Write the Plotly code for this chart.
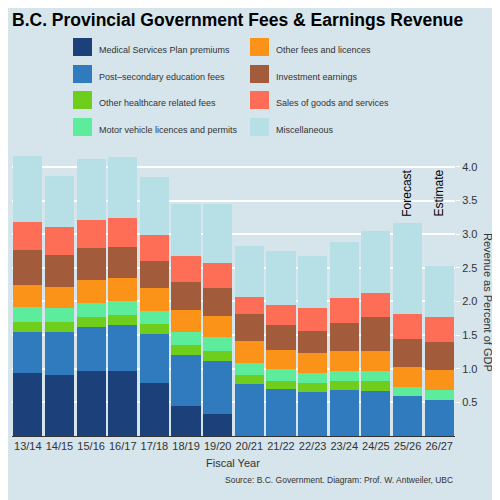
import plotly.graph_objects as go

# fiscal years and revenue components, % of GDP
years = ["13/14", "14/15", "15/16", "16/17", "17/18", "18/19", "19/20",
         "20/21", "21/22", "22/23", "23/24", "24/25", "25/26", "26/27"]

msp = [0.93, 0.91, 0.96, 0.96, 0.79, 0.45, 0.33, 0, 0, 0, 0, 0, 0, 0]
post_sec = [0.62, 0.63, 0.665, 0.69, 0.72, 0.76, 0.79, 0.77, 0.70, 0.65, 0.68, 0.67, 0.595, 0.54]
other_health = [0.15, 0.15, 0.145, 0.15, 0.15, 0.15, 0.15, 0.13, 0.12, 0.14, 0.14, 0.15, 0, 0]
motor = [0.22, 0.21, 0.21, 0.21, 0.20, 0.19, 0.20, 0.185, 0.17, 0.15, 0.145, 0.145, 0.135, 0.14]
other_fees = [0.33, 0.32, 0.34, 0.34, 0.345, 0.32, 0.32, 0.325, 0.29, 0.29, 0.295, 0.305, 0.30, 0.295]
investment = [0.52, 0.47, 0.48, 0.46, 0.395, 0.42, 0.415, 0.41, 0.365, 0.325, 0.42, 0.50, 0.41, 0.425]
sales = [0.41, 0.41, 0.41, 0.43, 0.39, 0.39, 0.37, 0.24, 0.295, 0.345, 0.37, 0.35, 0.37, 0.37]
misc = [0.98, 0.77, 0.91, 0.91, 0.86, 0.77, 0.875, 0.77, 0.81, 0.77, 0.83, 0.92, 1.35, 0.76]

series = [
    ("Medical Services Plan premiums", msp, "#1c4079"),
    ("Post–secondary education fees", post_sec, "#2f7bbd"),
    ("Other healthcare related fees", other_health, "#6fcd1c"),
    ("Motor vehicle licences and permits", motor, "#5cec9c"),
    ("Other fees and licences", other_fees, "#fb9318"),
    ("Investment earnings", investment, "#a25c3b"),
    ("Sales of goods and services", sales, "#fe6e56"),
    ("Miscellaneous", misc, "#b6e0e5"),
]

bg = "#d6e4eb"
fig = go.Figure()
for name, vals, col in series:
    fig.add_trace(go.Bar(x=years, y=vals, name=name, marker_color=col,
                         marker_line_width=0, showlegend=False))

# hand-made legend with big swatches, 2 columns x 4 rows (screen px -> paper)
W, H, L, B = 443, 296, 12, 436
def px(x): return (x - L) / W
def py(y): return (B - y) / H
for i, (name, vals, col) in enumerate(series):
    cx = 73 if i < 4 else 250
    cy = [47, 74, 100, 127][i % 4]
    fig.add_shape(type="rect", xref="paper", yref="paper",
                  x0=px(cx), x1=px(cx + 19), y0=py(cy + 9), y1=py(cy - 9),
                  fillcolor=col, line_width=0)
    fig.add_annotation(xref="paper", yref="paper", x=px(cx + 24), y=py(cy - 4),
                       text=name, showarrow=False, xanchor="left",
                       font=dict(size=9, color="#333"))

for yr, lab in [("25/26", "Forecast"), ("26/27", "Estimate")]:
    fig.add_annotation(x=yr, y=3.23, text=lab, textangle=-90, showarrow=False,
                       yanchor="bottom", font=dict(size=12, color="black"))

fig.add_annotation(xref="paper", yref="paper", x=px(496), y=py(302),
                   text="Revenue as Percent of GDP", textangle=90, showarrow=False,
                   font=dict(size=11, color="#333"))
fig.add_annotation(xref="paper", yref="paper", x=px(233), y=py(471),
                   text="Fiscal Year", showarrow=False, font=dict(size=11, color="#333"))
fig.add_annotation(xref="paper", yref="paper", x=px(455), y=py(487),
                   text="Source: B.C. Government. Diagram: Prof. W. Antweiler, UBC",
                   showarrow=False, xanchor="right", font=dict(size=8.5, color="#333"))

fig.update_layout(
    width=500, height=500, barmode="stack", bargap=0.08,
    paper_bgcolor=bg, plot_bgcolor=bg,
    font=dict(family="Liberation Sans, Arial", color="#333"),
    margin=dict(l=4, r=53, t=132, b=72),
    title=dict(text="<b>B.C. Provincial Government Fees & Earnings Revenue</b>",
               x=0.008, xanchor="left", y=0.988, yanchor="top",
               font=dict(size=17.5, color="black")),
)
fig.update_xaxes(showline=True, linecolor="#333", linewidth=1, ticks="",
                 tickfont=dict(size=11, color="#333"), tickangle=0)
fig.update_yaxes(side="right", range=[0, 4.4], tickvals=[0.5, 1, 1.5, 2, 2.5, 3, 3.5, 4],
                 tickformat=".1f", gridcolor="white", gridwidth=2, ticks="outside",
                 tickcolor="white", ticklen=4, zeroline=False,
                 tickfont=dict(size=11, color="#333"))

fig.write_html("out.html")
